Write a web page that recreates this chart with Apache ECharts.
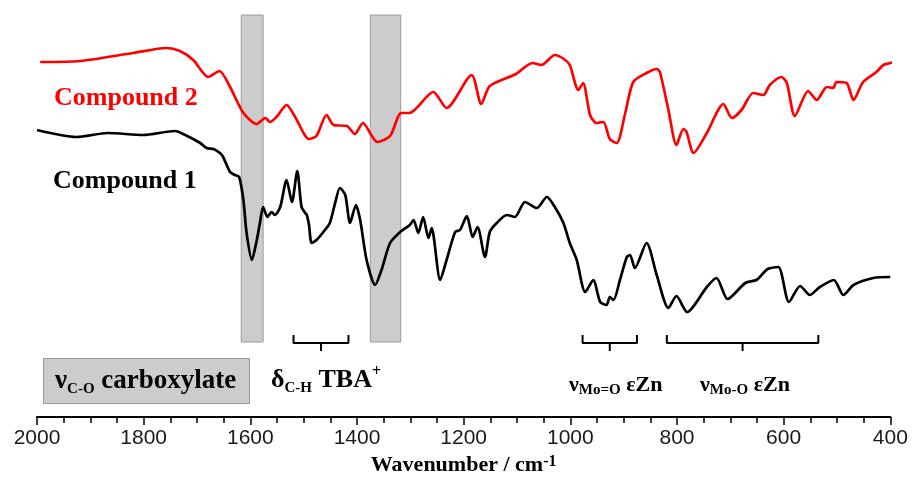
<!DOCTYPE html>
<html>
<head>
<meta charset="utf-8">
<script src="https://cdn.jsdelivr.net/npm/echarts@6/dist/echarts.min.js"></script>
<style>
html,body{margin:0;padding:0;background:#fff;}
#chart{width:912px;height:483px;}
</style>
</head>
<body>
<div id="chart"></div>
<script>
// Wavenumber (cm-1) and relative transmittance (arbitrary units)
var compound1 = [
[2000,287],[1926,280],[1867,284],[1801,282],[1741,286],[1722,282],[1694,274],[1682,269],[1669,268],
[1657,264],[1651,260],[1638,245],[1629,242],[1621,240],[1613,217],[1607,184],[1597,157],[1589,174],
[1582,194],[1576,210],[1568,200],[1560,205],[1554,202],[1544,210],[1532,237],[1522,215],[1512,246],
[1504,210],[1497,204],[1494,202],[1490,192],[1485,174],[1476,177],[1463,185],[1451,194],[1441,214],
[1432,229],[1422,222],[1413,194],[1402,212],[1394,197],[1382,157],[1366,132],[1354,147],[1338,174],
[1319,185],[1301,192],[1294,197],[1285,184],[1276,200],[1266,179],[1260,189],[1244,137],[1232,157],
[1216,185],[1207,187],[1194,201],[1183,180],[1174,190],[1160,160],[1151,185],[1138,194],[1119,202],
[1104,200],[1085,215],[1063,209],[1044,220],[1029,210],[1013,194],[1001,174],[988,157],[972,125],
[957,137],[944,115],[932,112],[926,120],[919,117],[907,137],[894,160],[888,162],[879,149],[857,174],
[838,142],[816,109],[801,121],[781,105],[744,130],[726,139],[705,118],[672,134],[651,137],[630,148],
[610,150],[590,115],[569,131],[551,122],[532,130],[506,137],[488,122],[469,132],[432,139],[400,140]
];
var compound2 = [
[1994,355],[1919,356],[1820,364],[1757,369],[1732,366],[1707,357],[1679,340],[1658,346],[1638,330],
[1613,304],[1588,293],[1572,299],[1563,295],[1551,300],[1532,312],[1516,300],[1490,278],[1476,281],
[1457,302],[1444,292],[1419,291],[1404,283],[1389,294],[1362,275],[1338,281],[1317,304],[1302,304],
[1257,325],[1232,309],[1185,342],[1167,313],[1151,331],[1102,343],[1071,354],[1054,352],[1029,362],
[1012,358],[1001,352],[985,327],[976,334],[963,302],[951,294],[938,295],[926,278],[913,274],[897,304],
[882,335],[857,344],[838,348],[832,345],[816,307],[801,272],[788,288],[782,285],[769,264],[744,284],
[713,313],[697,299],[679,307],[657,324],[638,322],[626,332],[604,340],[594,334],[579,301],[554,326],
[538,317],[519,330],[507,329],[501,335],[482,334],[469,317],[451,335],[426,345],[413,352],[400,354],[386,357]
];
// Shaded bands (cm-1)
var bands = [[1617,1576],[1375,1318]];
var bandRange = [75,402];
// Assignment brackets (cm-1): [start, end]
var brackets = [[1519,1416],[977,875],[819,535]];
var bracketLevels = {top:82, mid:74, bottom:66};
var xTicks = {min:400, max:2000, interval:200};

var serif = "'Liberation Serif','Times New Roman',serif";
var sans = "'Liberation Sans',Arial,sans-serif";

var series = [
  {name:'Compound 1', type:'line', data:compound1, showSymbol:false, smooth:0.25, z:2,
   lineStyle:{color:'#000', width:2.7}, animation:false},
  {name:'Compound 2', type:'line', data:compound2, showSymbol:false, smooth:0.25, z:2, clip:false,
   lineStyle:{color:'#ff0000', width:2.7}, animation:false},
  {name:'bands', type:'line', data:[], z:10, animation:false,
   markArea:{silent:true, itemStyle:{color:'rgba(128,128,128,0.4)', borderColor:'#9a9a9a', borderWidth:1},
     data: bands.map(function(b){return [{xAxis:b[0], yAxis:bandRange[0]},{xAxis:b[1], yAxis:bandRange[1]}];})}}
];
brackets.forEach(function(b){
  var c = (b[0]+b[1])/2;
  series.push({type:'line', data:[[b[0],bracketLevels.top],[b[0],bracketLevels.mid],[b[1],bracketLevels.mid],[b[1],bracketLevels.top]],
    showSymbol:false, lineStyle:{color:'#000', width:2}, animation:false, z:3});
  series.push({type:'line', data:[[c,bracketLevels.mid],[c,bracketLevels.bottom]],
    showSymbol:false, lineStyle:{color:'#000', width:2}, animation:false, z:3});
});

var chart = echarts.init(document.getElementById('chart'), null, {renderer:'canvas'});
chart.setOption({
  backgroundColor:'#fff',
  animation:false,
  grid:{left:37, right:21.7, top:0, bottom:66},
  xAxis:{type:'value', inverse:true, min:xTicks.min, max:xTicks.max, interval:xTicks.interval,
    axisLine:{lineStyle:{color:'#000', width:2}},
    axisTick:{show:true, length:8, lineStyle:{color:'#000', width:1.5}},
    minorTick:{show:true, splitNumber:4, length:6, lineStyle:{color:'#000', width:1.5}},
    splitLine:{show:false},
    axisLabel:{fontFamily:sans, fontSize:21, color:'#1a1a1a', margin:11,
      formatter:function(v){return String(v);}},
    name:'Wavenumber / cm{sup|-1}', nameLocation:'middle', nameGap:36,
    nameTextStyle:{fontFamily:serif, fontWeight:'bold', fontSize:22, color:'#000',
      rich:{sup:{fontFamily:serif, fontWeight:'bold', fontSize:16, verticalAlign:'top', lineHeight:14}}}
  },
  yAxis:{type:'value', min:0, max:417, show:false},
  series:series,
  graphic:[
    {type:'text', x:54, y:98, style:{text:'Compound 2', fill:'#ff0000', font:'bold 26px '+serif, verticalAlign:'middle'}},
    {type:'text', x:53, y:181, style:{text:'Compound 1', fill:'#000', font:'bold 26px '+serif, verticalAlign:'middle'}},
    {type:'rect', shape:{x:43.5, y:358.5, width:206, height:45}, style:{fill:'#cccccc', stroke:'#999', lineWidth:1}},
    {type:'text', x:55, y:381, style:{text:'{m|ν}{s|C-O}{m| carboxylate}', verticalAlign:'middle',
      rich:{m:{fontFamily:serif, fontWeight:'bold', fontSize:27, lineHeight:32, fill:'#000'},
            s:{fontFamily:serif, fontWeight:'bold', fontSize:15, lineHeight:15, verticalAlign:'bottom', fill:'#000'}}}},
    {type:'text', x:271, y:380, style:{text:'{m|δ}{s|C-H}{m| TBA}{p|+}', verticalAlign:'middle',
      rich:{m:{fontFamily:serif, fontWeight:'bold', fontSize:26, lineHeight:32, fill:'#000'},
            s:{fontFamily:serif, fontWeight:'bold', fontSize:15, lineHeight:15, verticalAlign:'bottom', fill:'#000'},
            p:{fontFamily:serif, fontWeight:'bold', fontSize:16, lineHeight:16, verticalAlign:'top', fill:'#000'}}}},
    {type:'text', x:569, y:385, style:{text:'{m|ν}{s|Mo=O}{m| εZn}', verticalAlign:'middle',
      rich:{m:{fontFamily:serif, fontWeight:'bold', fontSize:22, lineHeight:26, fill:'#000'},
            s:{fontFamily:serif, fontWeight:'bold', fontSize:15, lineHeight:15, verticalAlign:'bottom', fill:'#000'}}}},
    {type:'text', x:700, y:385, style:{text:'{m|ν}{s|Mo-O}{m| εZn}', verticalAlign:'middle',
      rich:{m:{fontFamily:serif, fontWeight:'bold', fontSize:22, lineHeight:26, fill:'#000'},
            s:{fontFamily:serif, fontWeight:'bold', fontSize:15, lineHeight:15, verticalAlign:'bottom', fill:'#000'}}}}
  ]
});
</script>
</body>
</html>
